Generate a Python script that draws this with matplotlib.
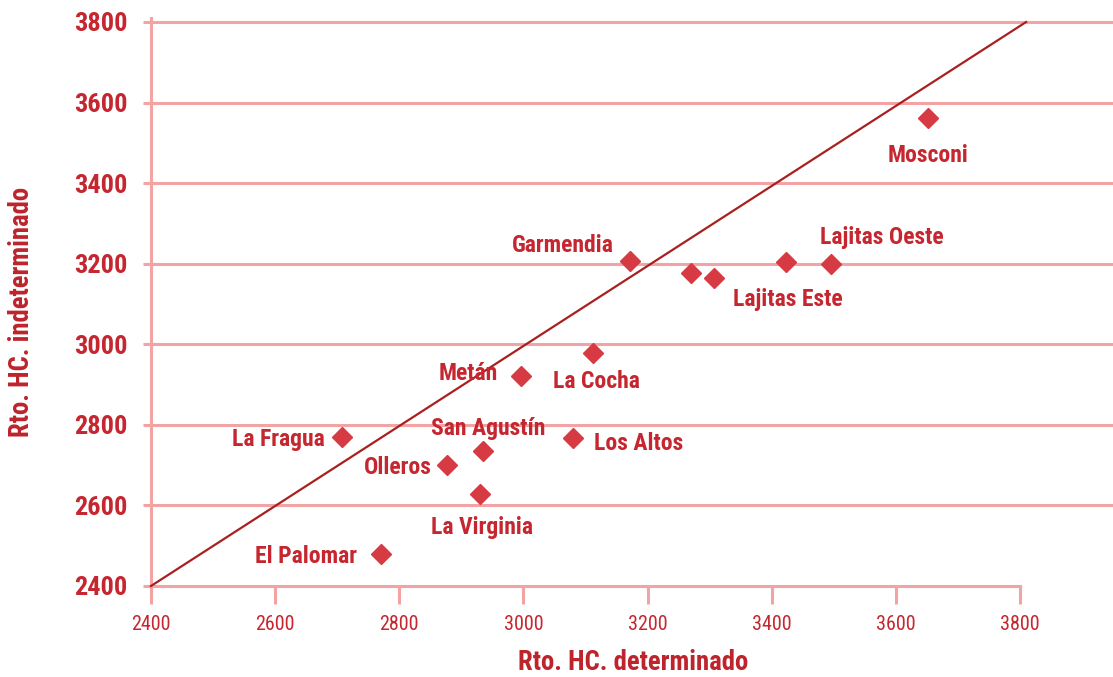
import matplotlib
matplotlib.use("Agg")
import matplotlib.pyplot as plt

plt.rcParams['font.family'] = ['Roboto Condensed', 'DejaVu Sans']

# datos
nombres = ["Mosconi", "Lajitas Oeste", "", "Lajitas Este", "", "Garmendia",
           "La Cocha", "Metán", "Los Altos", "San Agustín", "Olleros",
           "La Virginia", "La Fragua", "El Palomar"]
rto_det = [3652, 3496, 3423, 3307, 3270, 3172, 3112, 2996, 3080, 2935, 2877,
           2930, 2708, 2771]
rto_indet = [3562, 3199, 3204, 3164, 3177, 3207, 2978, 2921, 2767, 2735, 2700,
             2628, 2770, 2479]
linea_x = [2400, 3810]
linea_y = [2400, 3800]
ticks = [2400, 2600, 2800, 3000, 3200, 3400, 3600, 3800]

# posicion de cada etiqueta (offset en px, alineacion)
offsets = {
    "Mosconi": (0, -35, "center"),
    "Lajitas Oeste": (-11, 29, "left"),
    "Lajitas Este": (19, -19, "left"),
    "Garmendia": (-16, 18, "right"),
    "La Cocha": (-40, -26, "left"),
    "Metán": (-23, 5, "right"),
    "Los Altos": (21, -3, "left"),
    "San Agustín": (5, 25, "center"),
    "Olleros": (-15, 0, "right"),
    "La Virginia": (2, -31, "center"),
    "La Fragua": (-17, 0, "right"),
    "El Palomar": (-24, 0, "right"),
}

rojo = "#c5262f"
rosa = "#f4a3a5"

fig = plt.figure(figsize=(11.13, 6.77), dpi=100)
ax = fig.add_axes([151/1113, 91/677, 1 - 151/1113, (586-22)/677])

ax.plot(linea_x, linea_y, color="#a8201f", lw=1.6, zorder=3, clip_on=False)
ax.plot(rto_det, rto_indet, "D", color="#d63a43", ms=10.5, ls="none", zorder=4)

for n, x, y in zip(nombres, rto_det, rto_indet):
    if not n:
        continue
    dx, dy, ha = offsets[n]
    ax.annotate(n, (x, y), xytext=(dx * 0.72, dy * 0.72), textcoords="offset points",
                ha=ha, va="center_baseline", fontsize=17, fontweight="bold", color=rojo)

ax.set_xlim(2400, 3950)
ax.set_ylim(2400, 3800)
ax.set_xticks(ticks)
ax.set_yticks(ticks)
# lineas horizontales (sin la de 2400)
for t in ticks[1:]:
    ax.axhline(t, color=rosa, lw=2.2, zorder=1, clip_on=False)

for s in ["top", "right"]:
    ax.spines[s].set_visible(False)
for s in ["left", "bottom"]:
    ax.spines[s].set_color(rosa)
    ax.spines[s].set_linewidth(2.2)
    ax.spines[s].set_zorder(1)
ax.spines["bottom"].set_bounds(2400, 3800)
ax.spines["left"].set_bounds(2372, 3810)

ax.tick_params(axis="x", direction="out", length=13, width=2.2, color=rosa,
               pad=8, labelsize=14.5, labelcolor=rojo)
ax.tick_params(axis="y", direction="out", length=6, width=2.2, color=rosa,
               pad=11, labelsize=19, labelcolor=rojo)
for lab in ax.get_yticklabels():
    lab.set_fontweight("bold")

ax.set_xlabel("Rto. HC. determinado", fontsize=19.3, fontweight="bold", color="#bd242c")
ax.set_ylabel("Rto. HC. indeterminado", fontsize=19.3, fontweight="bold", color="#bd242c")
ax.xaxis.set_label_coords((633 - 151) / (1113 - 151), -(663 - 586) / 564)
ax.xaxis.label.set_va("center")
ax.yaxis.set_label_coords(-(151 - 22) / (1113 - 151), (586 - 312) / 564)
ax.yaxis.label.set_va("center")

fig.savefig("out.png", dpi=100)
